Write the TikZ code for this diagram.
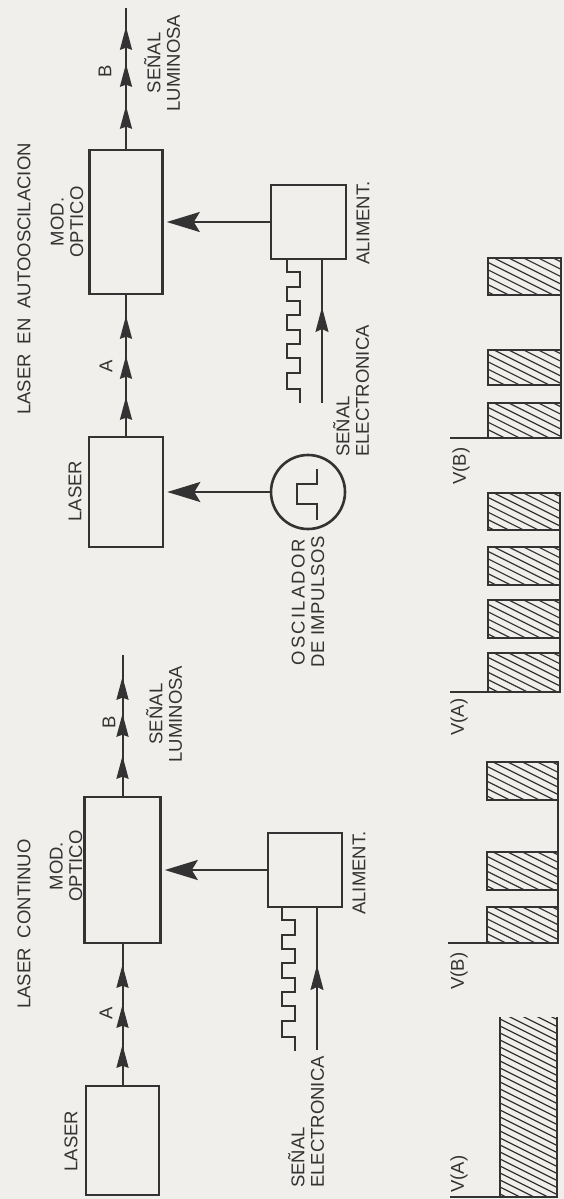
\documentclass[tikz,border=0pt]{standalone}
\usepackage{fontspec}
\setmainfont{Liberation Sans}
\newfontfamily\wideA[LetterSpace=12]{Liberation Sans}
\newfontfamily\wideB[LetterSpace=3]{Liberation Sans}
\usetikzlibrary{arrows.meta,decorations.markings}
\definecolor{ink}{HTML}{333333}
\definecolor{paper}{HTML}{F0EFEC}
\newcommand{\lbfont}{\fontsize{18.5}{19.5}\selectfont}
\newcommand{\pulsebar}[4]{%
  \begin{scope}
    \clip (#1,#2) rectangle (#3,#4);
    \foreach \k in {0,...,32} \draw[hatch] ({#1},{#2-40+\k*7.4}) -- ++(84,42);
  \end{scope}
  \draw[gline] (#1,#2) rectangle (#3,#4);}
\begin{document}
\begin{tikzpicture}[x=1pt,y=-1pt,
  smallhead/.tip={Stealth[length=23pt,width=12pt,inset=2pt]},
  bighead/.tip={Stealth[length=33pt,width=20pt,inset=6pt]},
  sighead/.tip={Stealth[length=25pt,width=13pt,inset=3pt]},
  box/.style={draw=ink,line width=2.6pt,inner sep=0pt},
  lbl/.style={text=ink,font=\lbfont,rotate=90,inner sep=0pt,align=center},
  lightpath/.style={color=ink,line width=2pt},
  threearrows/.style n args={3}{postaction={decorate},decoration={markings,
     mark=at position #1 with {\arrow{smallhead}},
     mark=at position #2 with {\arrow{smallhead}},
     mark=at position #3 with {\arrow{smallhead}}}},
  sigarrow/.style={postaction={decorate},decoration={markings,
     mark=at position #1 with {\arrow{sighead}}}},
  bigarrow/.style={color=ink,line width=2.2pt,-bighead,shorten >=3pt},
  sigpath/.style={color=ink,line width=1.4pt},
  wave/.style={color=ink,line width=1.7pt},
  gline/.style={color=ink,line width=2.8pt},
  hatch/.style={color=ink,line width=1.2pt}]
\fill[paper] (0,0) rectangle (564,1199);
\useasboundingbox (0,0) rectangle (564,1199);

% ================= TOP: LASER EN AUTOOSCILACION =================
\node[lbl] (titleT) at (24,279) {LASER\hspace{10pt}EN\hspace{10pt}AUTOOSCILACION};
\node[box,minimum width=73pt,minimum height=144pt] (modT) at (126,222) {};
\node[box,minimum width=74pt,minimum height=110pt] (laserT) at (126,492) {};
\node[box,minimum width=75pt,minimum height=74pt] (alimT) at (308.5,222) {};
\node[box,circle,minimum size=74pt] (osc) at (308,492) {};

\node[lbl] (modTl) at (67,222) {MOD.\\OPTICO};
\node[lbl] (laserTl) at (75,491) {LASER};
\node[lbl] (aT) at (106,366) {A};
\node[lbl] (bT) at (105,71) {B};
\node[lbl] (lumT) at (162,63) {SEÑAL\\LUMINOSA};
\node[lbl] (alimTl) at (363,223) {ALIMENT.};
\node[lbl,anchor=west,align=left] (elecT) at (351,457) {SEÑAL\\ELECTRONICA};
\node[lbl] (oscl) at (308,602) {{\wideA OSCILADOR}\\{\wideB DE IMPULSOS}};

\coordinate (outT) at (126,8);
\draw[lightpath,threearrows={43pt}{85pt}{122pt}] (modT.north) -- (outT);
\draw[lightpath,threearrows={39pt}{80pt}{120pt}] (laserT.north) -- (modT.south);
\draw[bigarrow] (alimT.west) -- (modT.east);
\draw[bigarrow] (osc.west) -- (laserT.east);
\coordinate (sigT) at (322,403);
\draw[sigpath,sigarrow=96pt] (sigT) -- (sigT |- alimT.south);
\draw[wave] ([xshift=17pt]alimT.south west) -- ++(0,12) -- ++(13,0) -- ++(0,15) -- ++(-13,0)
  -- ++(0,14) -- ++(13,0) -- ++(0,14) -- ++(-13,0) -- ++(0,15) -- ++(13,0) -- ++(0,14)
  -- ++(-13,0) -- ++(0,14) -- ++(13,0) -- ++(0,15) -- ++(-13,0) -- ++(0,16) -- ++(13,0) -- ++(0,14);
\draw[wave,line width=2pt] ([shift={(9,-23)}]osc.center) -- ++(0,14.5) -- ++(-20,0)
  -- ++(0,20) -- ++(20,0) -- ++(0,16.5);

% graphs (top)
\node[lbl] (vbT) at (461,466) {V(B)};
\pulsebar{488}{258}{561}{295}
\pulsebar{488}{350}{561}{385}
\pulsebar{488}{403}{561}{438}
\draw[gline] (450,438) -- (561,438) -- (561,258);
\node[lbl] (vaT) at (459,717) {V(A)};
\pulsebar{488}{493}{560}{530}
\pulsebar{488}{547}{560}{585}
\pulsebar{488}{600}{560}{638}
\pulsebar{488}{653}{560}{692}
\draw[gline] (450,692) -- (560,692) -- (560,493);

% ================= BOTTOM: LASER CONTINUO =================
\node[lbl] (titleB) at (24,924) {LASER\hspace{10pt}CONTINUO};
\node[box,minimum width=76pt,minimum height=146pt] (modB) at (122.5,870) {};
\node[box,minimum width=73pt,minimum height=109pt] (laserB) at (122.5,1140.5) {};
\node[box,minimum width=74pt,minimum height=74pt] (alimB) at (305,870) {};

\node[lbl] (modBl) at (66,866) {MOD.\\OPTICO};
\node[lbl] (laserBl) at (71,1141) {LASER};
\node[lbl] (aB) at (106,1013) {A};
\node[lbl] (bB) at (109,722) {B};
\node[lbl] (lumB) at (164,714) {SEÑAL\\LUMINOSA};
\node[lbl] (alimBl) at (359,873) {ALIMENT.};
\node[lbl,anchor=west,align=left] (elecB) at (306,1188) {SEÑAL\\ELECTRONICA};

\coordinate (outB) at (122.5,655);
\draw[lightpath,threearrows={40pt}{82pt}{119pt}] (modB.north) -- (outB);
\draw[lightpath,threearrows={40pt}{80pt}{120pt}] (laserB.north) -- (modB.south);
\draw[bigarrow] (alimB.west) -- (modB.east);
\coordinate (sigB) at (317,1050);
\draw[sigpath,sigarrow=85pt] (sigB) -- (sigB |- alimB.south);
\draw[wave] ([xshift=15pt]alimB.south west) -- ++(0,12) -- ++(13,0) -- ++(0,15) -- ++(-13,0)
  -- ++(0,14) -- ++(13,0) -- ++(0,14) -- ++(-13,0) -- ++(0,15) -- ++(13,0) -- ++(0,14)
  -- ++(-13,0) -- ++(0,14) -- ++(13,0) -- ++(0,15) -- ++(-13,0) -- ++(0,16) -- ++(13,0) -- ++(0,14);

% graphs (bottom)
\node[lbl] (vbB) at (459,971) {V(B)};
\pulsebar{487}{762}{558}{800}
\pulsebar{487}{852}{558}{890}
\pulsebar{487}{907}{558}{943}
\draw[gline] (448,943) -- (558,943) -- (558,762);
\node[lbl] (vaB) at (459,1174) {V(A)};
\begin{scope}
  \clip (500,1017) rectangle (557,1197);
  \foreach \k in {0,...,32} \draw[hatch] (500,{1017-40+\k*7.0}) -- ++(84,42);
\end{scope}
\draw[gline] (450,1197) -- (557,1197) -- (557,1017);
\draw[gline] (500,1197) -- (500,1017);
\end{tikzpicture}
\end{document}
